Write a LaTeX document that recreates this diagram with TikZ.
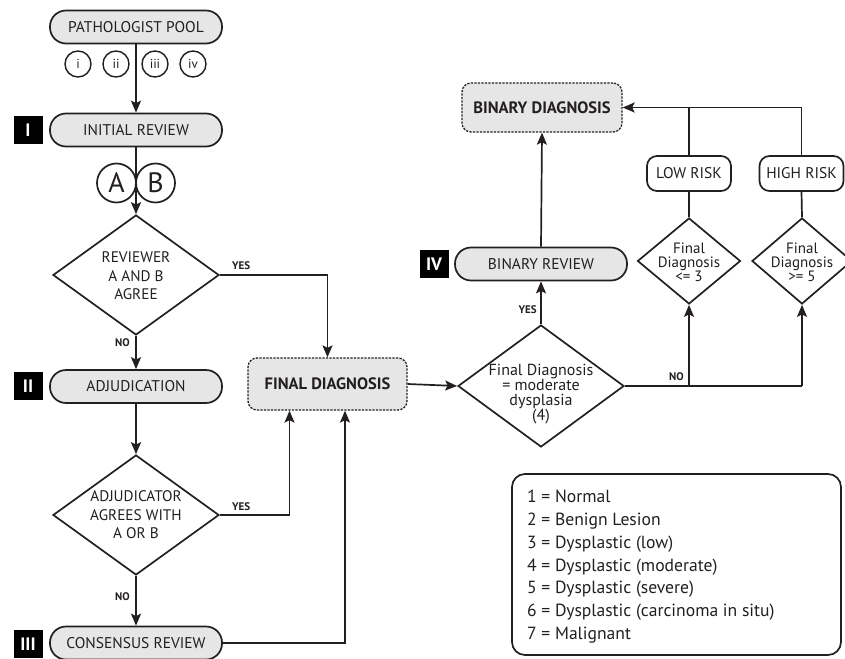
\documentclass[tikz,border=0pt]{standalone}
\usepackage{fontspec}
\setmainfont{PT Sans}
\usetikzlibrary{shapes.geometric,arrows.meta,calc}
\definecolor{boxgrey}{HTML}{E6E6E6}
\definecolor{ink}{HTML}{231F20}
\tikzset{
  base/.style={draw=ink, line width=1.7pt, text=ink},
  pill/.style={base, rectangle, rounded corners=16pt, fill=boxgrey, minimum width=172pt, minimum height=33pt, inner sep=0pt, font=\fontsize{15.5}{17}\selectfont},
  riskbox/.style={base, rectangle, rounded corners=10pt, fill=white, minimum width=84pt, minimum height=35pt, inner sep=0pt, font=\fontsize{15.5}{17}\selectfont},
  dashbox/.style={draw=ink, line width=1.3pt, dash pattern=on 2.2pt off 1.3pt, rectangle, rounded corners=9pt, fill=boxgrey, inner sep=0pt, font=\bfseries\fontsize{16.5}{18}\selectfont, text=ink},
  decision/.style={base, diamond, aspect=1, inner sep=0pt, fill=white},
  dtext/.style={align=center, inner sep=0pt, text=ink},
  smallcirc/.style={base, line width=1.4pt, circle, minimum size=26pt, inner sep=0pt, font=\fontsize{13}{14}\selectfont},
  bigcirc/.style={base, circle, minimum size=39pt, inner sep=0pt, font=\fontsize{28}{29}\selectfont},
  roman/.style={rectangle, fill=black, text=white, minimum width=29pt, minimum height=28pt, inner sep=0pt, font=\bfseries\fontsize{18}{19}\selectfont},
  arr/.style={draw=ink, line width=1.7pt, -{Stealth[length=12pt,width=10pt,inset=2.5pt]}},
  ln/.style={draw=ink, line width=1.7pt},
  yn/.style={font=\bfseries\fontsize{11}{12}\selectfont, text=ink, inner sep=0pt},
}
\begin{document}
\begin{tikzpicture}[x=1pt,y=-1pt]
\useasboundingbox (0,0) rectangle (845,658);
\clip (0,0) rectangle (845,658);
% left column
\node[pill] (pool) at (136,27) {PATHOLOGIST POOL};
\node[smallcirc] (ci) at (78,64) {i};
\node[smallcirc] (cii) at (116,64) {ii};
\node[smallcirc] (ciii) at (155,64) {iii};
\node[smallcirc] (civ) at (193,64) {iv};
\node[pill] (init) at (136,130) {INITIAL REVIEW};
\node[roman] (r1) at (28,130) {I};
\node[bigcirc] (ca) at (116.5,183) {A};
\node[bigcirc] (cb) at (155.5,183) {B};
\node[decision, minimum width=166pt, minimum height=120pt] (d1) at (136,275) {};
\node[dtext, font=\fontsize{15.3}{18.5}\selectfont] (d1t) at (136,276) {REVIEWER\\A AND B\\AGREE};
\node[pill] (adj) at (136,386.5) {ADJUDICATION};
\node[roman] (r2) at (28,386) {II};
\node[decision, minimum width=166pt, minimum height=120pt] (d2) at (136,515) {};
\node[dtext, font=\fontsize{15.3}{18.5}\selectfont] (d2t) at (136,515) {ADJUDICATOR\\AGREES WITH\\A OR B};
\node[pill] (cons) at (136,643) {CONSENSUS REVIEW};
\node[roman] (r3) at (28,644) {III};
% final diagnosis
\node[dashbox, minimum width=159pt, minimum height=52pt] (fd) at (327.5,384) {FINAL DIAGNOSIS};
% right part
\node[decision, minimum width=166pt, minimum height=122pt] (md) at (541,386) {};
\node[dtext, font=\fontsize{16}{15}\selectfont] (mdt) at (541,394) {Final Diagnosis\\= moderate\\dysplasia\\(4)};
\node[pill] (brev) at (541,264) {BINARY REVIEW};
\node[roman] (r4) at (434,264) {IV};
\node[dashbox, minimum width=160pt, minimum height=49pt] (bd) at (542,107.5) {BINARY DIAGNOSIS};
\node[decision, minimum width=103pt, minimum height=86pt] (ld) at (689,261) {};
\node[dtext, font=\fontsize{15}{14}\selectfont] (ldt) at (689,262) {Final\\Diagnosis\\<= 3};
\node[decision, minimum width=100pt, minimum height=86pt] (hd) at (802,261) {};
\node[dtext, font=\fontsize{15}{14}\selectfont] (hdt) at (802,262) {Final\\Diagnosis\\>= 5};
\node[riskbox] (low) at (689,173.5) {LOW RISK};
\node[riskbox] (high) at (801.5,173.5) {HIGH RISK};
% legend
\node[base, rectangle, rounded corners=13pt, minimum width=329pt, minimum height=181pt, inner sep=0pt] (leg) at (676.5,564.5) {};
\node[anchor=north west, align=left, inner sep=0pt, text=ink, font=\fontsize{17.6}{22.8}\selectfont] (legtext) at (527,490) {1 = Normal\\2 = Benign Lesion\\3 = Dysplastic (low)\\4 = Dysplastic (moderate)\\5 = Dysplastic (severe)\\6 = Dysplastic (carcinoma in situ)\\7 = Malignant};
% connectors
\draw[arr] (pool.south) -- (init.north);
\draw[arr] (init.south) -- (d1.north);
\draw[arr] (d1.east) -| (fd.north);
\node[yn, anchor=south west] (yes1) at (232,270) {YES};
\draw[arr] (d1.south) -- (adj.north);
\node[yn, anchor=east] (no1) at (130,343) {NO};
\draw[arr] (adj.south) -- (d2.north);
\coordinate (fdin1) at ($(fd.south)+(-38,0)$);
\coordinate (fdin2) at ($(fd.south)+(17.5,0)$);
\draw[arr] (d2.east) -| (fdin1);
\node[yn, anchor=south west] (yes2) at (232,511) {YES};
\draw[arr] (d2.south) -- (cons.north);
\node[yn, anchor=east] (no2) at (130,597) {NO};
\draw[arr] (cons.east) -| (fdin2);
\draw[arr] (fd.east) -- (md.west);
\draw[arr] (md.north) -- (brev.south);
\node[yn, anchor=east] (yes3) at (537,310) {YES};
\draw[arr] (brev.north) -- (bd.south);
\coordinate (split1) at (ld.south |- md.east);
\coordinate (split2) at (hd.south |- md.east);
\draw[ln] (md.east) -- (split2);
\node[yn, anchor=south east] (no3) at (684,381) {NO};
\draw[arr] (split1) -- (ld.south);
\draw[arr] (split2) -- (hd.south);
\draw[ln] (ld.north) -- (low.south);
\draw[ln] (hd.north) -- (high.south);
\coordinate (join1) at (low.north |- bd.east);
\draw[ln] (low.north) -- (join1);
\draw[arr] (high.north) |- (bd.east);
\end{tikzpicture}
\end{document}
